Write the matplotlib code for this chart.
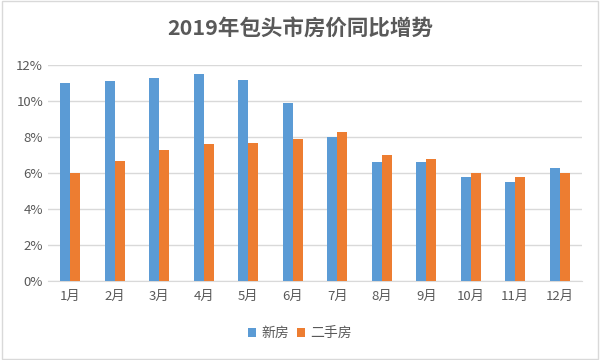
import numpy as np
import matplotlib
matplotlib.use("Agg")
import matplotlib.pyplot as plt
from matplotlib.ticker import FuncFormatter
from matplotlib.patches import Rectangle

plt.rcParams['font.family'] = ['Noto Sans CJK SC', 'DejaVu Sans']

months = ['1月', '2月', '3月', '4月', '5月', '6月', '7月', '8月', '9月', '10月', '11月', '12月']
new_house = [11.0, 11.1, 11.3, 11.5, 11.2, 9.9, 8.0, 6.6, 6.6, 5.8, 5.5, 6.3]
second_hand = [6.0, 6.7, 7.3, 7.6, 7.7, 7.9, 8.3, 7.0, 6.8, 6.0, 5.8, 6.0]

blue = '#5B9BD5'
orange = '#ED7D31'
text_color = '#595959'

fig = plt.figure(figsize=(6, 3.6), dpi=100)
ax = fig.add_axes([0.08, 0.219, 0.89, 0.6])

x = np.arange(len(months))
w = 0.23
ax.bar(x - w / 2, new_house, w, color=blue, label='新房', zorder=3)
ax.bar(x + w / 2, second_hand, w, color=orange, label='二手房', zorder=3)

ax.set_xlim(-0.5, len(months) - 0.5)
ax.set_ylim(0, 12)
ax.set_yticks(range(0, 13, 2))
ax.yaxis.set_major_formatter(FuncFormatter(lambda v, p: f'{v:.0f}%'))
ax.set_xticks(x)
ax.set_xticklabels(months)
ax.tick_params(length=0, colors=text_color, labelsize=9.5)
ax.tick_params(axis='x', pad=6)
ax.grid(axis='y', color='#D9D9D9', linewidth=1, zorder=0)
for s in ['top', 'right', 'left']:
    ax.spines[s].set_visible(False)
ax.spines['bottom'].set_color('#D9D9D9')

fig.text(0.5, 0.92, '2019年包头市房价同比增势', ha='center', va='center',
         fontsize=15.5, fontweight='bold', color=text_color)

leg = fig.legend(loc='center', bbox_to_anchor=(0.5, 0.075), ncol=2, frameon=False,
                 fontsize=10, handlelength=0.6, handleheight=0.6, handletextpad=0.4,
                 columnspacing=0.5)
for t in leg.get_texts():
    t.set_color(text_color)

fig.patches.append(Rectangle((0.003, 0.003), 0.994, 0.994, transform=fig.transFigure,
                             fill=False, edgecolor='#D9D9D9', linewidth=1))

fig.savefig('out.png', dpi=100)
